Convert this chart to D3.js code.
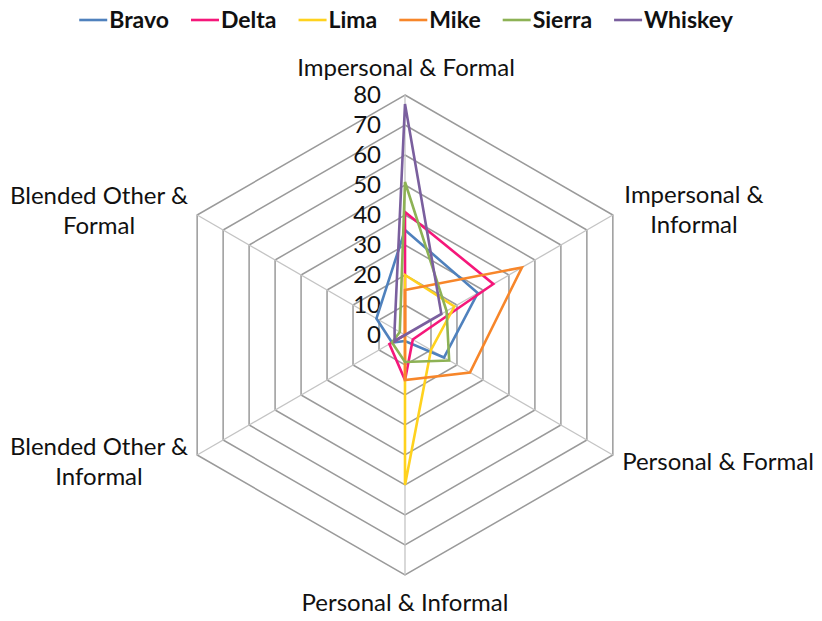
<!DOCTYPE html>
<html>
<head>
<meta charset="utf-8">
<script src="https://cdn.jsdelivr.net/npm/d3@7/dist/d3.min.js"></script>
<style>
  body { margin: 0; background: #fff; }
  svg text { font-family: Lato, "Open Sans", sans-serif; fill: #111; }
</style>
</head>
<body>
<svg id="chart" width="822" height="621"></svg>
<script>
// axis categories, clockwise from the top
const categories = [
  ["Impersonal & Formal"],
  ["Impersonal &", "Informal"],
  ["Personal & Formal"],
  ["Personal & Informal"],
  ["Blended Other &", "Informal"],
  ["Blended Other &", "Formal"]
]
const ticks = [0, 10, 20, 30, 40, 50, 60, 70, 80]

const seriesNames = ["Bravo", "Delta", "Lima", "Mike", "Sierra", "Whiskey"]
const bravo   = [35, 28, 15, 2, 5, 11]
const delta   = [41, 34, 3, 15, 6, 0]
const lima    = [20, 19, 10, 50, 0, 0]
const mike    = [15, 45, 25, 15, 0, 0]
const sierra  = [51, 16, 17, 9, 5, 2]
const whiskey = [77, 14, 0, 0, 4, 4]
const colors  = ["#4F81BD", "#F5177A", "#FFD21E", "#F7862A", "#8DB255", "#7A5F9E"]

const series = [bravo, delta, lima, mike, sierra, whiskey].map((v, i) => ({name: seriesNames[i], values: v, color: colors[i]}))

const svg = d3.select("#chart")
const cx = 405, cy = 335
const r = d3.scaleLinear().domain([0, 80]).range([0, 240])
const angle = d3.scaleLinear().domain([0, categories.length]).range([-Math.PI / 2, 1.5 * Math.PI])

function pt(i, v) {
  const a = angle(i)
  return [cx + r(v) * Math.cos(a), cy + r(v) * Math.sin(a)]
}

const g = svg.append("g")

// rings
ticks.slice(1).forEach(t => {
  g.append("path")
    .attr("d", d3.line()(categories.map((c, i) => pt(i, t))) + "Z")
    .attr("fill", "none")
    .attr("stroke", "#9a9a9a")
    .attr("stroke-width", 1.5)
})

// spokes
categories.forEach((c, i) => {
  const p = pt(i, 80)
  g.append("line")
    .attr("x1", cx).attr("y1", cy).attr("x2", p[0]).attr("y2", p[1])
    .attr("stroke", "#c4c4c4").attr("stroke-width", 1.3)
})

// tick labels
g.selectAll(".tick").data(ticks).enter().append("text")
  .attr("x", cx - 24)
  .attr("y", d => cy - r(d))
  .attr("dy", "0.35em")
  .attr("text-anchor", "end")
  .style("font-size", "24px")
  .text(d => d)

// series
const line = d3.line().curve(d3.curveLinearClosed)
series.forEach(s => {
  g.append("path")
    .attr("d", line(s.values.map((v, i) => pt(i, v))))
    .attr("fill", "none")
    .attr("stroke", s.color)
    .attr("stroke-width", 2.6)
    .attr("stroke-linejoin", "miter")
})

// category labels
const labelPos = [
  {x: 406, y: 76},
  {x: 694, y: 203},
  {x: 718, y: 470},
  {x: 405, y: 611},
  {x: 99, y: 455},
  {x: 99, y: 204}
]
categories.forEach((c, i) => {
  const t = g.append("text")
    .attr("x", labelPos[i].x)
    .attr("y", labelPos[i].y)
    .attr("text-anchor", "middle")
    .style("font-size", "24px")
  c.forEach((l, k) => {
    t.append("tspan").attr("x", labelPos[i].x).attr("dy", k ? 30 : 0).text(l)
  })
})

// legend
const leg = svg.append("g")
let lx = 0
series.forEach(s => {
  const item = leg.append("g").attr("transform", `translate(${lx},0)`)
  item.append("line").attr("x1", 0).attr("x2", 28).attr("y1", 0).attr("y2", 0)
    .attr("stroke", s.color).attr("stroke-width", 2.6)
  const tx = item.append("text").attr("x", 30).attr("dy", "0.35em")
    .style("font-size", "23px").style("font-weight", "bold")
    .text(s.name)
  lx += 30 + tx.node().getComputedTextLength() + 22
})
lx -= 22
leg.attr("transform", `translate(${406 - lx / 2},20)`)
</script>
</body>
</html>
